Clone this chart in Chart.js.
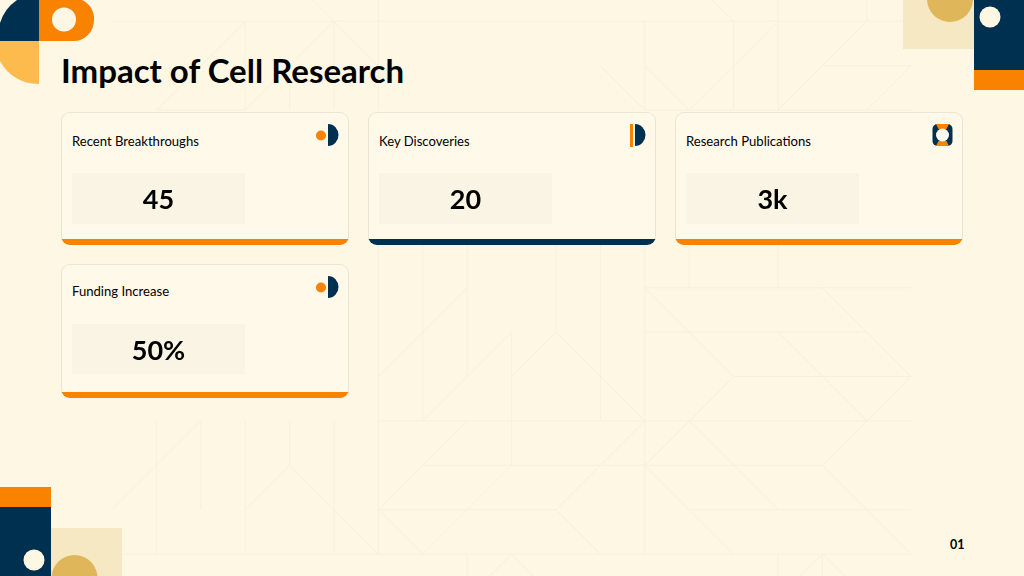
<!DOCTYPE html>
<html>
<head>
<meta charset="utf-8">
<title>Impact of Cell Research</title>
<script src="https://cdn.jsdelivr.net/npm/chart.js@4"></script>
<style>
html, body { margin: 0; padding: 0; }
body { width: 1024px; height: 576px; overflow: hidden; position: relative; background: #FEF7E4; font-family: Lato, sans-serif; color: #000; }
svg.layer { position: absolute; left: 0; top: 0; }
h1 { position: absolute; left: 61px; top: 50px; margin: 0; font-size: 33px; line-height: 40px; font-weight: 700; white-space: nowrap; }
.card { position: absolute; width: 288px; background: #FFF9EA; box-shadow: inset 0 0 0 1px #ECE4D0; border-radius: 9px; overflow: hidden; }
.card .stripe { position: absolute; left: 0; right: 0; bottom: 0; height: 6.5px; }
.card .label { position: absolute; left: 11px; font-size: 13.1px; line-height: 18px; white-space: nowrap; }
.card canvas { position: absolute; left: 11px; }
.icon { position: absolute; }
#page { position: absolute; left: 950px; top: 537px; font-size: 12.5px; line-height: 16px; font-weight: 700; }
</style>
</head>
<body>
<svg class="layer" id="bgLines" width="1024" height="576"></svg>
<svg class="layer" width="1024" height="576">
    <!-- arriba izquierda -->
    <path d="M39 41 L39 0 L17 0 A43 43 0 0 0 0 23 L0 41 Z" fill="#00304F"/>
    <path d="M39 41 L0 41 L0 61 A43 43 0 0 0 39 84 Z" fill="#FDBB4E"/>
    <path d="M39 0 L82 0 A20.5 20.5 0 0 1 94 20.5 A20.5 20.5 0 0 1 73.5 41 L39 41 Z" fill="#F98200"/>
    <circle cx="64" cy="19.5" r="12" fill="#FEF7E4"/>
    <!-- arriba derecha -->
    <rect x="903" y="0" width="71" height="49" fill="#F6E8C2"/>
    <circle cx="950" cy="-1" r="23" fill="#E0B65A"/>
    <rect x="974" y="0" width="50" height="70" fill="#00304F"/>
    <rect x="974" y="70" width="50" height="20" fill="#F98200"/>
    <circle cx="990" cy="17" r="10.5" fill="#FEF7E4"/>
    <!-- abajo izquierda -->
    <rect x="51" y="528" width="71" height="48" fill="#F6E8C2"/>
    <circle cx="74.5" cy="578" r="23" fill="#E0B65A"/>
    <rect x="0" y="487" width="51" height="20" fill="#F98200"/>
    <rect x="0" y="507" width="51" height="69" fill="#00304F"/>
    <circle cx="34" cy="560" r="10.5" fill="#FEF7E4"/>
</svg>
<h1>Impact of Cell Research</h1>
<div id="cards"></div>
<div id="page">01</div>

<script>
// Tarjetas
const categories = ["Recent Breakthroughs", "Key Discoveries", "Research Publications", "Funding Increase"];
const kpiValues = [45, 20, 3000, 50];
const kpiLabels = ["45", "20", "3k", "50%"];
const tileFill = [1, 1, 1, 1];

// left, top, height, top del label, top de la celda, alto de la celda
const cardBoxes = [[61, 112, 133, 20, 61, 51], [368, 112, 133, 20, 61, 51], [675, 112, 133, 20, 61, 51], [61, 264, 134, 18, 60, 50]];
const stripeColors = ["#F98200", "#00304F", "#F98200", "#F98200"];
const iconKinds = ["dot", "bar", "ring", "dot"];

function iconSvg(kind) {
    if (kind === "dot") {
        return '<circle cx="6" cy="12.5" r="5" fill="#F98200"/><path d="M13 1 A10.5 11 0 0 1 13 23 Z" fill="#00304F"/>';
    }
    if (kind === "bar") {
        return '<rect x="0" y="1" width="3" height="23" fill="#F98200"/><path d="M5 1 A10.5 11 0 0 1 5 23 Z" fill="#00304F"/>';
    }
    return '<rect x="0.5" y="1" width="20" height="22" rx="5" fill="#00304F"/>' +
           '<path d="M4 1 H17 L14.5 6 H6.5 Z M4 23 H17 L14.5 18 H6.5 Z" fill="#F98200"/>' +
           '<circle cx="10.5" cy="12" r="6.5" fill="#FFF9EA"/>';
}

const iconLeft = { dot: 315, bar: 630, ring: 932 };

// texto del valor encima de la barra
const valueText = {
    id: "valueText",
    afterDatasetsDraw: function (chart) {
        var el = chart.getDatasetMeta(0).data[0];
        var ctx = chart.ctx;
        ctx.save();
        ctx.font = "700 27px Lato";
        ctx.fillStyle = "#000";
        ctx.textAlign = "center";
        ctx.textBaseline = "middle";
        ctx.fillText(chart.data.datasets[0].text, (el.base + el.x) / 2, Math.floor(el.y) + 2);
        ctx.restore();
    }
};

var holder = document.getElementById("cards");
categories.forEach(function (name, i) {
    var box = cardBoxes[i];
    var card = document.createElement("div");
    card.className = "card";
    card.style.left = box[0] + "px";
    card.style.top = box[1] + "px";
    card.style.height = box[2] + "px";
    card.innerHTML = '<div class="label" style="top:' + box[3] + 'px">' + name + '</div>' +
        '<canvas width="173" height="' + box[5] + '" style="top:' + box[4] + 'px"></canvas>' +
        '<div class="stripe" style="background:' + stripeColors[i] + '"></div>';
    holder.appendChild(card);

    var icon = document.createElementNS("http://www.w3.org/2000/svg", "svg");
    icon.setAttribute("class", "icon");
    icon.setAttribute("width", "24");
    icon.setAttribute("height", "25");
    icon.style.left = iconLeft[iconKinds[i]] + "px";
    icon.style.top = (box[1] + 10.5) + "px";
    icon.innerHTML = iconSvg(iconKinds[i]);
    document.body.appendChild(icon);

    var canvas = card.querySelector("canvas");
    new Chart(canvas.getContext("2d"), {
        type: "bar",
        data: {
            labels: [name],
            datasets: [{
                data: [tileFill[i]],
                text: kpiLabels[i],
                value: kpiValues[i],
                backgroundColor: "#F9F4E3",
                barPercentage: 1,
                categoryPercentage: 1
            }]
        },
        options: {
            indexAxis: "y",
            responsive: false,
            animation: false,
            layout: { padding: 0 },
            scales: {
                x: { display: false, min: 0, max: 1 },
                y: { display: false }
            },
            plugins: {
                legend: { display: false },
                tooltip: { enabled: false }
            }
        },
        plugins: [valueText]
    });
});

// Fondo: lineas sobre una rejilla de 44.4px
function gx(i) { return 112 + 44.4 * i; }
function gy(j) { return 21.3 + 44.4 * j; }

const bgSegments = [
    // horizontales
    [0, 0, 18, 0], [12, 6, 18, 6], [12, 7, 17, 7], [14, 8, 18, 8], [6, 9, 18, 9], [7, 10, 16, 10],
    [6, 11, 10, 11], [13, 11, 18, 11], [0, 12, 18, 12], [16, 1, 18, 1], [12, 2, 18, 2], [1, 2, 3, 2],
    // verticales
    [1, 9, 1, 12], [2, 9, 2, 11], [3, 0, 3, 2], [3, 9, 3, 12], [4, 1, 4, 2], [4, 9, 4, 10], [5, 0, 5, 2], [5, 9, 5, 12],
    [6, -1, 6, 2], [6, 5, 6, 12], [7, 5, 7, 9], [8, 5, 8, 8], [9, 7, 9, 10], [10, 5, 10, 7], [11, 5, 11, 9],
    [12, 0, 12, 2], [12, 5, 12, 12], [13, 5, 13, 6], [14, 0, 14, 2], [15, -1, 15, 2], [15, 5, 15, 6], [17, -1, 17, 0],
    [8, 12, 8, 13], [15, 12, 15, 13], [16, 12, 16, 13],
    // diagonales
    [5, 0, 3, 2], [5, 0, 4, -1], [5, 0, 6, 1], [3, 0, 1, 2], [15, 0, 13, 2], [13, -1, 14, 0], [12, 1, 13, 2], [11, 1, 12, 2],
    [16, 1, 15, 2], [18, 1, 17, 2], [17, 0, 16, 1], [16, 6, 18, 8], [18, 8, 16, 10], [15, 7, 17, 9], [14, 8, 12, 10],
    [13, 9, 15, 11], [12, 10, 14, 12], [16, 10, 18, 12], [12, 6, 14, 8], [10, 7, 12, 9], [10, 7, 9, 8], [9, 7, 7, 9],
    [8, 6, 6, 8], [8, 9, 6, 11], [9, 10, 7, 12], [12, 9, 10, 11], [10, 11, 11, 12], [6, 11, 7, 12], [4, 10, 6, 12],
    [4, 10, 3, 11], [2, 9, 0, 11], [16, 12, 15, 13], [16, 12, 17, 13], [9, 12, 8, 13], [9, 12, 10, 13]
];

var lines = "";
bgSegments.forEach(function (s) {
    lines += '<line x1="' + gx(s[0]) + '" y1="' + gy(s[1]) + '" x2="' + gx(s[2]) + '" y2="' + gy(s[3]) + '"/>';
});
var bg = document.getElementById("bgLines");
bg.innerHTML = '<g stroke="#F8F0DB" stroke-width="1" fill="none">' + lines + '</g>';
</script>
</body>
</html>
